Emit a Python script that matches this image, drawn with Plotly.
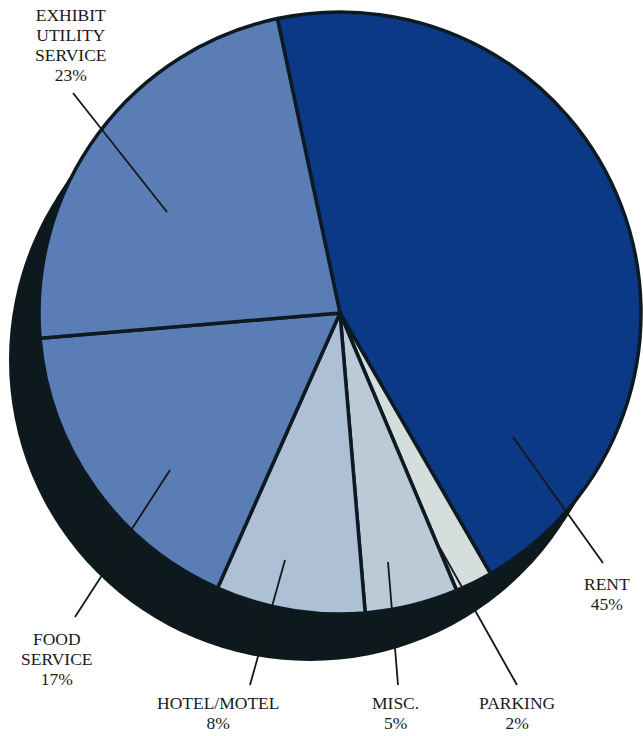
import math
import plotly.graph_objects as go

# Budget shares (percent), clockwise from the top
labels = ["RENT", "PARKING", "MISC.", "HOTEL/MOTEL", "FOOD<br>SERVICE", "EXHIBIT<br>UTILITY<br>SERVICE"]
values = [45, 2, 5, 8, 17, 23]
colors = ["#0b3986", "#d6dedd", "#bccad8", "#adc0d5", "#5a7db5", "#5a7db5"]

W, H = 643, 736

def px(x):
    return x / W

def py(y):
    return 1 - y / H

# pie face geometry (pixels)
CX, CY, R = 340, 313, 301
# extrusion offset of the dark base
DX, DY = -30, 47

fig = go.Figure(go.Pie(
    labels=labels,
    values=values,
    sort=False,
    direction="clockwise",
    rotation=-12,
    textinfo="none",
    hoverinfo="label+percent",
    marker=dict(colors=colors, line=dict(color="#0d1a22", width=3.5)),
    domain=dict(x=[px(CX - R), px(CX + R)], y=[py(CY + R), py(CY - R)]),
))

# dark base below the face: shifted disc plus the band joining it to the face
dl = math.hypot(DX, DY)
nx, ny = DY / dl, -DX / dl
pts = [(CX + R * nx, CY + R * ny), (CX + DX + R * nx, CY + DY + R * ny),
       (CX + DX - R * nx, CY + DY - R * ny), (CX - R * nx, CY - R * ny)]
path = "M " + " L ".join(f"{px(x):.5f},{py(y):.5f}" for x, y in pts) + " Z"
shade = "#0e191d"
shapes = [
    dict(type="circle", xref="paper", yref="paper", layer="below",
         x0=px(CX + DX - R), x1=px(CX + DX + R), y0=py(CY + DY + R), y1=py(CY + DY - R),
         fillcolor=shade, line=dict(color=shade, width=0)),
    dict(type="path", xref="paper", yref="paper", layer="below", path=path,
         fillcolor=shade, line=dict(color=shade, width=0)),
]

# leader lines: (label index, start, end) in pixels
leaders = [
    (0, (513, 437), (603, 563)),
    (1, (440, 548), (517, 685)),
    (2, (388, 562), (398, 685)),
    (3, (285, 560), (250, 685)),
    (4, (170, 470), (75, 617)),
    (5, (167, 212), (73, 93)),
]
for _, (x0, y0), (x1, y1) in leaders:
    shapes.append(dict(type="line", xref="paper", yref="paper", layer="above",
                       x0=px(x0), y0=py(y0), x1=px(x1), y1=py(y1),
                       line=dict(color="#161616", width=1.8)))

# label blocks: centre x and centre y of each block (pixels)
label_pos = {0: (607, 594), 1: (517, 713), 2: (396, 713), 3: (218, 713),
             4: (57, 659), 5: (71, 45)}
# line spacing follows the base size, glyphs use the span size
GLYPH = 17.5
BASE = 15.5
font = dict(family="Liberation Serif, Times New Roman, serif", size=BASE, color="#1a1a1a")
annotations = []
for i, (lab, val) in enumerate(zip(labels, values)):
    lines = lab.split("<br>") + [f"{val}%"]
    text = "<br>".join(f"<span style='font-size:{GLYPH}px'>{t}</span>" for t in lines)
    x0, y0 = label_pos[i]
    annotations.append(dict(x=px(x0), y=py(y0), xref="paper", yref="paper",
                            text=text, showarrow=False, font=font,
                            xanchor="center", yanchor="middle"))

fig.update_layout(
    width=W, height=H,
    margin=dict(l=0, r=0, t=0, b=0),
    paper_bgcolor="white", plot_bgcolor="white",
    showlegend=False,
    shapes=shapes,
    annotations=annotations,
)

fig.write_html("out.html")
